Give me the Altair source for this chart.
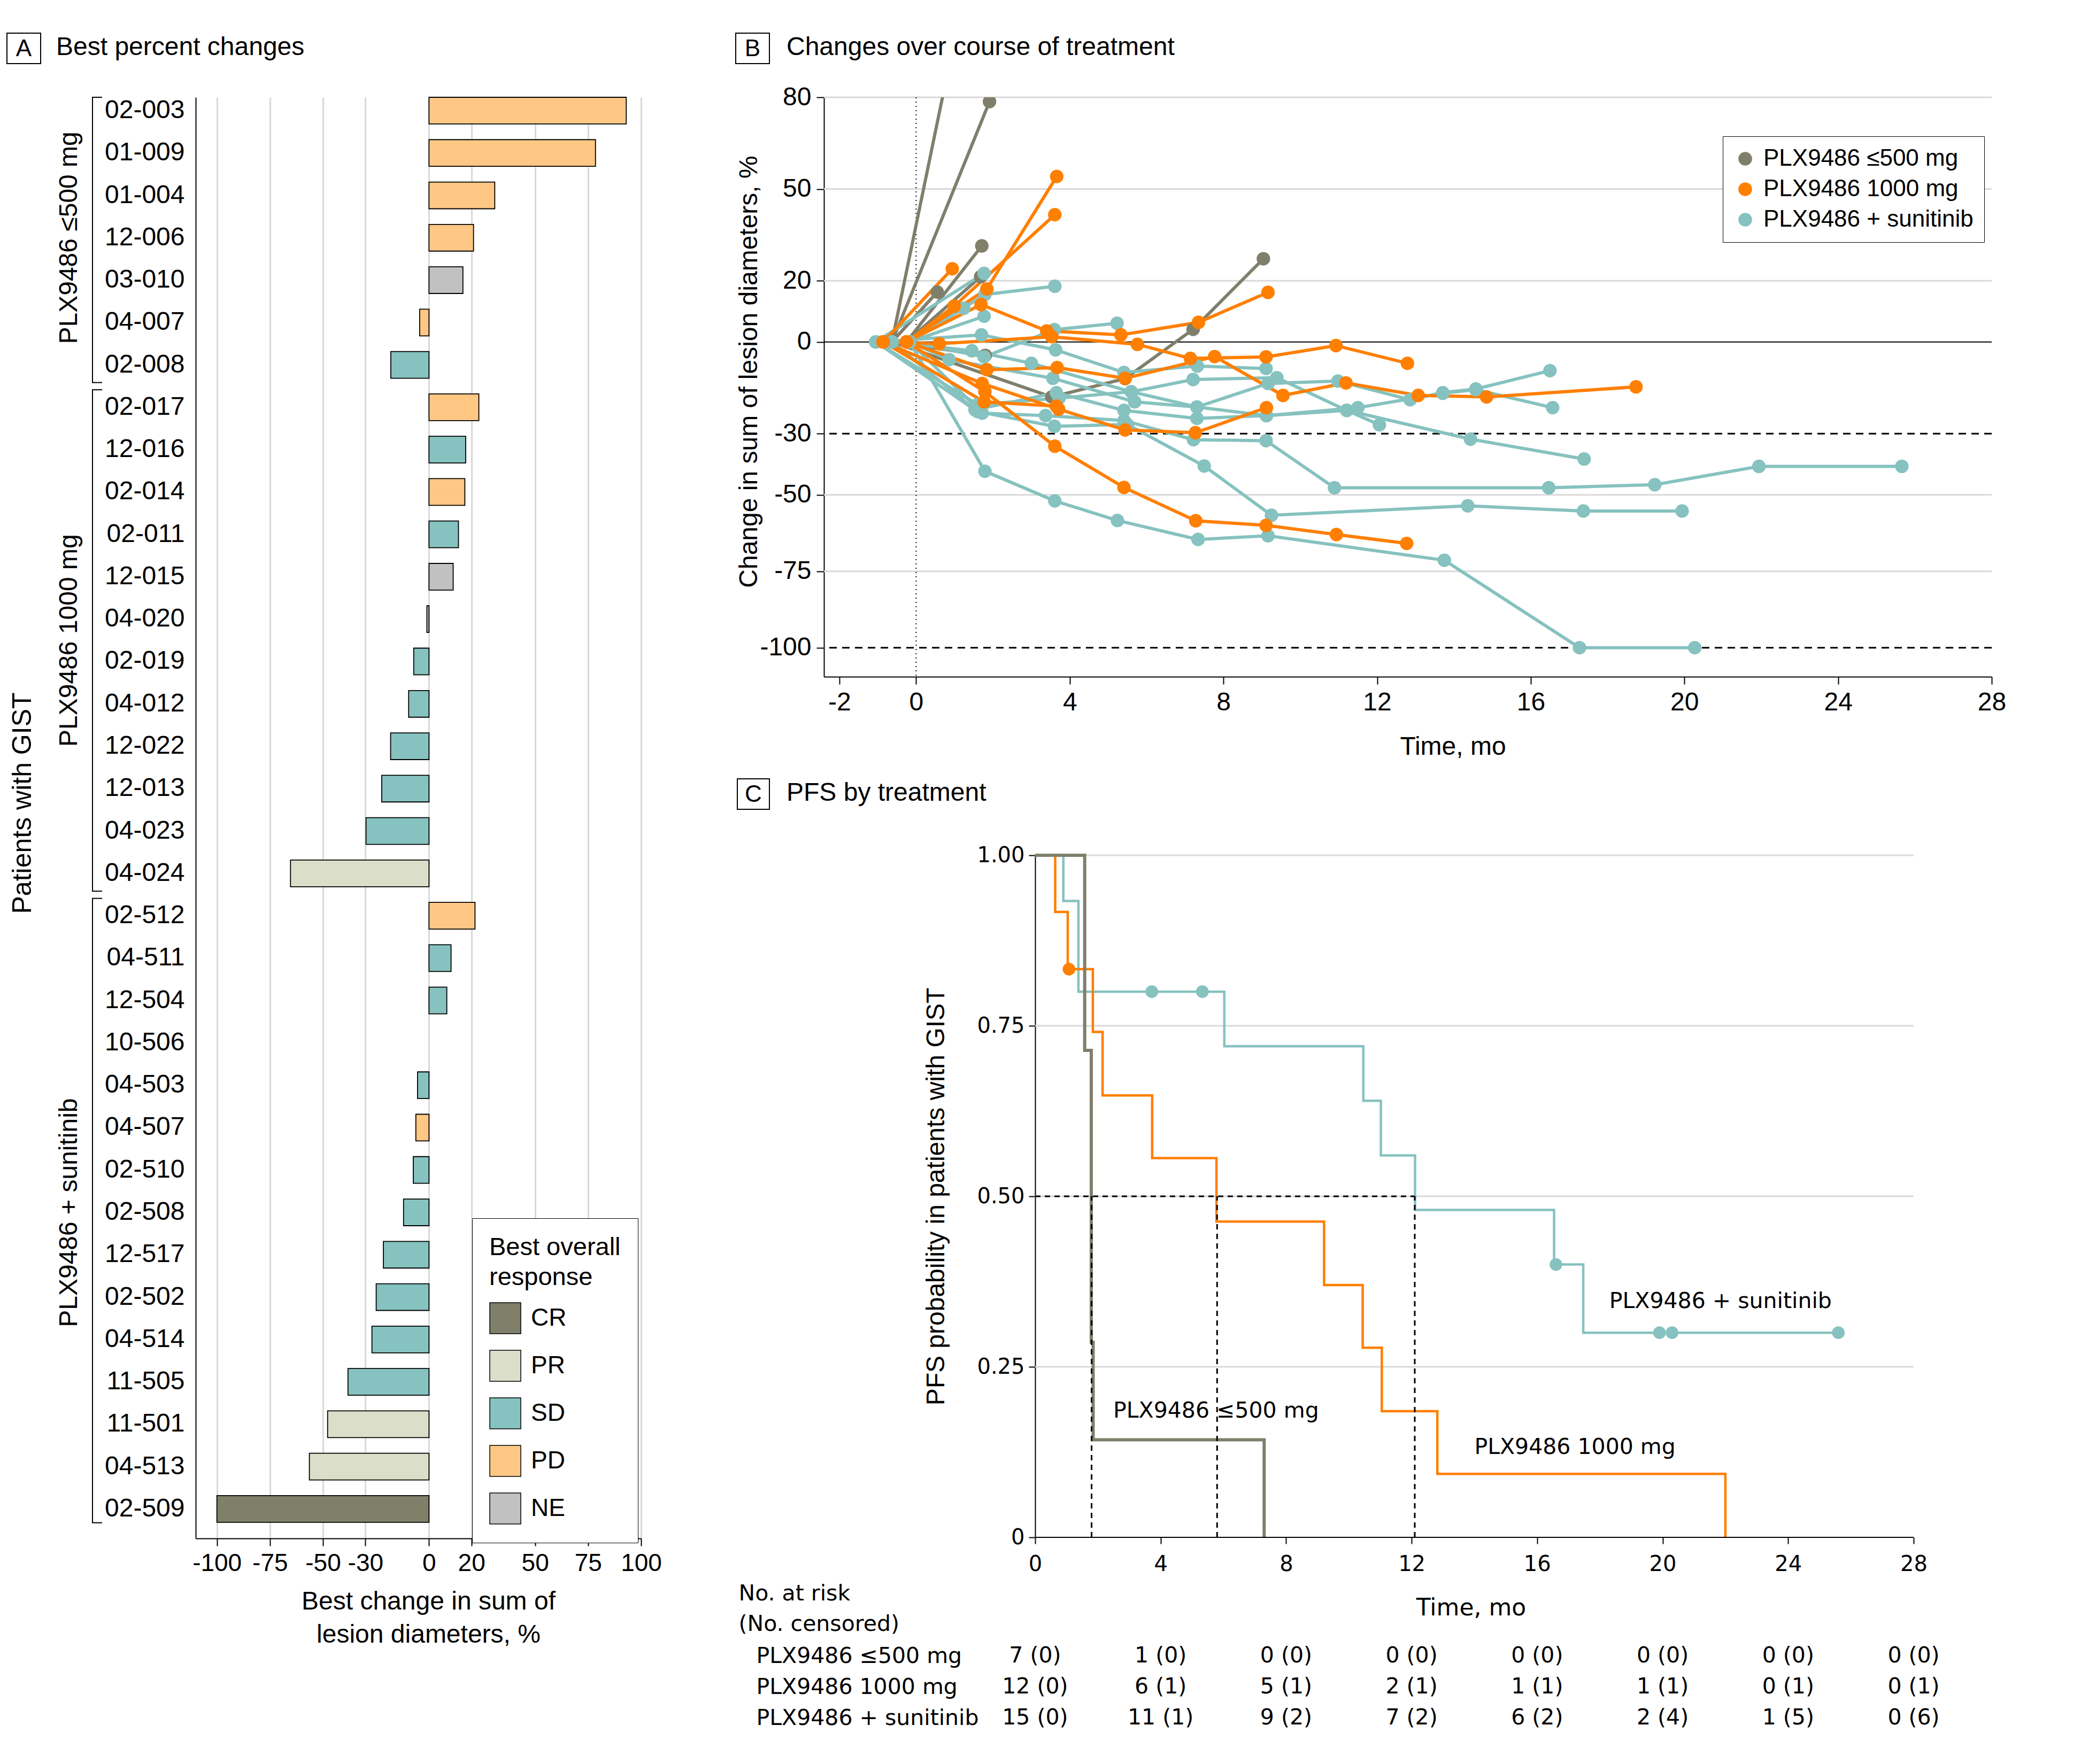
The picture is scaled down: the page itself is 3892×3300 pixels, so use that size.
import altair as alt
import pandas as pd

FONT = "Liberation Sans"
FONT_C = "DejaVu Sans"

# ---------------- Panel A data ----------------
patient_ids = ["02-003", "01-009", "01-004", "12-006", "03-010", "04-007", "02-008",
               "02-017", "12-016", "02-014", "02-011", "12-015", "04-020", "02-019", "04-012",
               "12-022", "12-013", "04-023", "04-024",
               "02-512", "04-511", "12-504", "10-506", "04-503", "04-507", "02-510", "02-508",
               "12-517", "02-502", "04-514", "11-505", "11-501", "04-513", "02-509"]
best_change = [93, 78.5, 31, 21, 16, -4.4, -18,
               23.5, 17.3, 16.9, 13.9, 11.4, -1, -7.2, -9.6, -18.1, -22.3, -29.7, -65.3,
               21.7, 10.4, 8.4, None, -5.4, -6.2, -7.4, -12, -21.5, -24.9, -26.9, -38.2, -47.8, -56.4, -100]
best_response = ["PD", "PD", "PD", "PD", "NE", "PD", "SD",
                 "PD", "SD", "PD", "SD", "NE", "NE", "SD", "SD", "SD", "SD", "SD", "PR",
                 "PD", "SD", "SD", None, "SD", "PD", "SD", "SD", "SD", "SD", "SD", "SD", "PR", "PR", "CR"]
group_names = ["PLX9486 ≤500 mg", "PLX9486 1000 mg", "PLX9486 + sunitinib"]
group_sizes = [7, 12, 15]
response_levels = ["CR", "PR", "SD", "PD", "NE"]
response_colors = ["#807f6a", "#dbdfca", "#86c2bf", "#fec884", "#c1c1c1"]
a_ticks = [-100, -75, -50, -30, 0, 20, 50, 75, 100]

# ---------------- Panel B data ----------------
group_colors = ["#807f6b", "#ff7f00", "#86c2bf"]
gray_t = [[-0.63, 0.9], [-0.63, 1.91], [-0.25, 1.71], [-0.25, 1.68], [-0.63, 0.55],
          [-0.63, 3.53, 5.44, 7.21, 9.04], [-0.63, 1.8]]
gray_v = [[0, 93], [0, 78.6], [0, 31.4], [0, 21.3], [0, 16.3],
          [0, -18.0, -12.0, 4.1, 27.2], [0, -4.4]]
orange_t = [[-0.86, 0.94], [-0.25, 1.84, 3.66], [-0.25, 0.99, 3.61],
            [-0.25, 1.69, 3.40, 5.33, 7.35, 9.16],
            [-0.86, 0.60, 3.53, 5.76, 7.14, 9.11, 10.93, 12.79],
            [-0.25, 1.84, 3.67, 5.44, 7.77, 9.55, 11.19, 13.07, 14.85, 18.74],
            [-0.86, 1.72, 3.71, 5.44, 7.27, 9.12],
            [-0.25, 1.79, 3.61, 5.41, 7.28, 9.11, 10.94, 12.77],
            [-0.86, 1.77, 3.65]]
orange_v = [[0, 23.9], [0, 17.3, 54.1], [0, 11.7, 41.6],
            [0, 12.2, 3.6, 2.3, 6.4, 16.2],
            [0, -0.6, 1.7, -0.8, -5.4, -4.9, -1.2, -7.0],
            [0, -9.1, -8.4, -11.9, -4.8, -17.5, -13.4, -17.5, -18.0, -14.7],
            [0, -13.6, -22.0, -28.8, -29.7, -21.5],
            [0, -16.3, -34.1, -47.6, -58.5, -60.0, -63.0, -65.9],
            [0, -19.6, -21.0]]
teal_t = [[-1.05, 1.77], [-0.17, 1.79, 3.61], [-0.17, 1.24], [-0.17, 1.77],
          [-1.05, 1.70, 3.63, 5.41, 7.32, 9.11],
          [-0.17, 1.77, 3.60, 5.23],
          [-0.63, 1.45, 3.0, 5.6, 7.21, 9.39, 11.21, 14.43, 17.39],
          [-0.17, 0.86, 3.56, 5.69, 7.31, 9.16, 10.98, 12.86, 13.71, 14.57, 16.5],
          [-1.05, 1.53, 3.65, 5.41, 7.31, 9.12, 11.5, 13.71, 14.57, 16.57],
          [-0.17, 1.72, 3.37, 5.41, 7.22, 9.11, 10.89, 16.47, 19.23, 21.94, 25.66],
          [-0.63, 1.6, 3.60, 5.5, 7.5, 9.25, 14.36, 17.37, 19.94],
          [-0.17, 1.79, 3.61, 5.24, 7.34, 9.16, 13.75, 17.27, 20.27],
          [-1.05, 1.6, 3.72, 5.6, 7.31, 9.12, 11.21, 12.06]]
teal_v = [[0, 22.4], [0, 15.5, 18.2], [0, 11.0], [0, 8.4],
          [0, 2.3, -2.6, -10.0, -7.9, -8.7],
          [0, -4.9, 4.0, 6.1],
          [0, -2.9, -7.0, -16.3, -12.3, -11.7, -22.4, -31.8, -38.3],
          [0, -5.8, -11.9, -19.6, -21.3, -13.6, -12.8, -18.9, -16.6, -15.4, -9.4],
          [0, -22.2, -16.6, -22.4, -25.0, -24.1, -21.5, -16.8, -15.6, -21.5],
          [0, -23.3, -24.1, -25.7, -32.0, -32.3, -47.7, -47.7, -46.7, -40.7, -40.7],
          [0, -22.8, -27.6, -27.0, -40.6, -56.7, -53.6, -55.3, -55.3],
          [0, -42.3, -52.0, -58.4, -64.6, -63.4, -71.4, -100.0, -100.0],
          [0, -20.5, -18.4, -16.3, -21.3, -24.1, -22.4, -27.1]]
b_x_ticks = [-2, 0, 4, 8, 12, 16, 20, 24, 28]
b_y_ticks = [80, 50, 20, 0, -30, -50, -75, -100]
b_grid_gray = [80, 50, 20, -50, -75]
b_dashed = [-30, -100]

# ---------------- Panel C data ----------------
km_gray_t = [0, 1.58, 1.79, 1.85, 7.3]
km_gray_s = [1, 0.714, 0.286, 0.143, 0]
km_orange_t = [0, 0.64, 1.04, 1.84, 2.15, 3.73, 5.78, 9.21, 10.44, 11.05, 12.82, 22.0]
km_orange_s = [1, 0.917, 0.833, 0.741, 0.648, 0.556, 0.463, 0.370, 0.278, 0.185, 0.093, 0]
km_teal_t = [0, 0.90, 1.38, 6.03, 10.46, 11.02, 12.11, 16.54, 17.47, 25.6]
km_teal_s = [1, 0.933, 0.8, 0.72, 0.64, 0.56, 0.48, 0.40, 0.30, 0.30]
cens_orange_t = [1.08]
cens_orange_s = [0.833]
cens_teal_t = [3.72, 5.33, 16.6, 19.9, 20.3, 25.6]
cens_teal_s = [0.8, 0.8, 0.40, 0.30, 0.30, 0.30]
medians = [1.8, 5.8, 12.1]
c_x_ticks = [0, 4, 8, 12, 16, 20, 24, 28]
c_y_ticks = [0, 0.25, 0.5, 0.75, 1.0]
ann_text = ["PLX9486 ≤500 mg", "PLX9486 1000 mg", "PLX9486 + sunitinib"]
ann_x = [2.49, 14.0, 18.3]
ann_y = [0.185, 0.132, 0.346]
risk_times = [0, 4, 8, 12, 16, 20, 24, 28]
risk_low = ["7 (0)", "1 (0)", "0 (0)", "0 (0)", "0 (0)", "0 (0)", "0 (0)", "0 (0)"]
risk_high = ["12 (0)", "6 (1)", "5 (1)", "2 (1)", "1 (1)", "1 (1)", "0 (1)", "0 (1)"]
risk_sun = ["15 (0)", "11 (1)", "9 (2)", "7 (2)", "6 (2)", "2 (4)", "1 (5)", "0 (6)"]

one = pd.DataFrame({"k": [0]})
HYPHEN = "replace(datum.label, '\u2212', '-')"


def panel_label(letter, title, bx0, by0, bx1, by1, tx, ty):
    box = alt.Chart(one).mark_rect(fill="white", stroke="black", strokeWidth=2).encode(
        x=alt.value(bx0), x2=alt.value(bx1), y=alt.value(by0), y2=alt.value(by1))
    let = alt.Chart(one).mark_text(text=letter, font=FONT, fontSize=44, align="center",
                                   baseline="middle", color="black").encode(
        x=alt.value((bx0 + bx1) / 2), y=alt.value((by0 + by1) / 2 + 1))
    tit = alt.Chart(one).mark_text(text=title, font=FONT, fontSize=48, align="left",
                                   baseline="middle", color="black").encode(
        x=alt.value(tx), y=alt.value(ty))
    return [box, let, tit]


# ================= Panel A =================
dfA = pd.DataFrame({"pid": patient_ids, "change": best_change, "resp": best_response})
W_A, H_A = 833, 2696
PI_A = 0.37

bars = alt.Chart(dfA).mark_bar(stroke="black", strokeWidth=1.8).encode(
    x=alt.X("change:Q", scale=alt.Scale(domain=[-110, 100], nice=False, zero=False),
            axis=alt.Axis(values=a_ticks, grid=True, gridColor="#d9d9d9", gridWidth=3,
                          domainColor="black", domainWidth=2, tickColor="black", tickWidth=2,
                          tickSize=14, labelFont=FONT, labelFontSize=46, labelColor="black",
                          labelPadding=10, labelOverlap=False, labelFlush=False, labelExpr=HYPHEN,
                          title=["Best change in sum of", "lesion diameters, %"],
                          titleFont=FONT, titleFontSize=48, titleFontWeight="normal",
                          titleColor="black", titleX=435, titleY=94, titleAlign="center",
                          titleBaseline="top", titleLineHeight=62, titleLimit=2000)),
    y=alt.Y("pid:N", sort=patient_ids,
            scale=alt.Scale(domain=patient_ids, paddingInner=PI_A, paddingOuter=0.19, align=0),
            axis=alt.Axis(ticks=False, tickSize=0, domainColor="black", domainWidth=2,
                          labelFont=FONT, labelFontSize=48, labelColor="black", labelPadding=21,
                          title="Patients with GIST", titleFont=FONT, titleFontSize=50,
                          titleFontWeight="normal", titleColor="black", titleAngle=270,
                          titleX=-324, titleY=1320, titleAlign="center", titleBaseline="middle",
                          titleLimit=3000)),
    color=alt.Color("resp:N", scale=alt.Scale(domain=response_levels, range=response_colors),
                    legend=alt.Legend(title=["Best overall", "response"], orient="none",
                                      legendX=517, legendY=2097, symbolType="square",
                                      symbolSize=3364, symbolStrokeColor="black",
                                      symbolStrokeWidth=1.5, symbolOpacity=1,
                                      labelFont=FONT, labelFontSize=46, labelColor="black",
                                      titleFont=FONT, titleFontSize=47, titleFontWeight="normal",
                                      titleColor="black", titleLineHeight=56, titlePadding=22,
                                      strokeColor="black", fillColor="white", padding=32,
                                      rowPadding=25, labelOffset=18, labelLimit=1000,
                                      titleLimit=1000)),
)

# bracket extents in row units (row i occupies [i, i + 1 - PI_A] with align=0)
starts, ends = [], []
acc = 0
for n in group_sizes:
    starts.append(acc)
    acc += n
    ends.append(acc)
dfG = pd.DataFrame({"grp": group_names,
                    "y0": [max(s - 0.1, 0) for s in starts],
                    "y1": [e - PI_A + 0.1 if e < acc else e - PI_A for e in ends],
                    "ym": [(s + e - PI_A) / 2 for s, e in zip(starts, ends)]})
yq = alt.Scale(domain=[0, len(patient_ids)], reverse=True, nice=False, zero=False)
br_v = alt.Chart(dfG).mark_rule(color="black", strokeWidth=2).encode(
    x=alt.value(-193), y=alt.Y("y0:Q", scale=yq, axis=None), y2="y1:Q")
br_t = alt.Chart(dfG).mark_rule(color="black", strokeWidth=2).encode(
    x=alt.value(-194), x2=alt.value(-175), y=alt.Y("y0:Q", scale=yq, axis=None))
br_b = alt.Chart(dfG).mark_rule(color="black", strokeWidth=2).encode(
    x=alt.value(-194), x2=alt.value(-175), y=alt.Y("y1:Q", scale=yq, axis=None))
grp_txt = alt.Chart(dfG).mark_text(angle=270, font=FONT, fontSize=48, align="center",
                                   baseline="middle", color="black").encode(
    x=alt.value(-236), y=alt.Y("ym:Q", scale=yq, axis=None), text="grp:N")

A_main = alt.layer(bars, *panel_label("A", "Best percent changes", -353, -120, -290, -63, -261, -93))
A_br = alt.layer(br_v, br_t, br_b, grp_txt)
A = alt.layer(A_main, A_br).resolve_scale(y="independent").properties(width=W_A, height=H_A)

# ================= Panel B =================
rowsB = []
for grp, tl, vl in [(group_names[0], gray_t, gray_v), (group_names[2], teal_t, teal_v),
                    (group_names[1], orange_t, orange_v)]:
    for k, (ts, vs) in enumerate(zip(tl, vl)):
        for t, v in zip(ts, vs):
            rowsB.append({"pid": f"{grp}-{k}", "grp": grp, "t": t, "v": v})
dfB = pd.DataFrame(rowsB)

grp_scale = alt.Scale(domain=group_names, range=group_colors)
xB = alt.Scale(domain=[-2.4, 28], nice=False, zero=False)
yB = alt.Scale(domain=[-109.5, 80], nice=False, zero=False)
xB_axis = alt.Axis(values=b_x_ticks, grid=False, domainColor="black", domainWidth=2,
                   tickColor="black", tickWidth=2, tickSize=14, labelFont=FONT, labelFontSize=48,
                   labelColor="black", labelPadding=10, labelOverlap=False, labelFlush=False,
                   labelExpr=HYPHEN, title="Time, mo", titleFont=FONT,
                   titleFontSize=48, titleFontWeight="normal", titleColor="black",
                   titleX=1176, titleY=131, titleAlign="center", titleBaseline="middle")
yB_axis = alt.Axis(values=b_y_ticks, grid=False, domainColor="black", domainWidth=2,
                   tickColor="black", tickWidth=2, tickSize=14, labelFont=FONT, labelFontSize=48,
                   labelColor="black", labelPadding=10, labelOverlap=False, labelFlush=False,
                   labelExpr=HYPHEN,
                   title="Change in sum of lesion diameters, %", titleFont=FONT,
                   titleFontSize=48, titleFontWeight="normal", titleColor="black",
                   titleAngle=270, titleX=-140, titleY=513, titleAlign="center",
                   titleBaseline="middle", titleLimit=3000)
legB = alt.Legend(title=None, orient="none", legendX=1681, legendY=73,
                  symbolType="circle", symbolSize=660, symbolOpacity=1,
                  symbolStrokeWidth=0, labelFont=FONT, labelFontSize=44, labelColor="black",
                  padding=20, rowPadding=13, labelOffset=12, labelLimit=1000,
                  strokeColor="black", fillColor="white")

gridB = alt.Chart(pd.DataFrame({"y": b_grid_gray})).mark_rule(color="#d9d9d9", strokeWidth=3).encode(
    y=alt.Y("y:Q", scale=yB, axis=yB_axis))
zeroB = alt.Chart(pd.DataFrame({"y": [0]})).mark_rule(color="black", strokeWidth=2).encode(
    y=alt.Y("y:Q", scale=yB, axis=yB_axis))
dashB = alt.Chart(pd.DataFrame({"y": b_dashed})).mark_rule(color="black", strokeWidth=3,
                                                           strokeDash=[14, 10]).encode(
    y=alt.Y("y:Q", scale=yB, axis=yB_axis))
vlineB = alt.Chart(pd.DataFrame({"x": [0]})).mark_rule(color="black", strokeWidth=2,
                                                       strokeDash=[2, 6]).encode(
    x=alt.X("x:Q", scale=xB, axis=xB_axis))
linesB = alt.Chart(dfB).mark_line(strokeWidth=6, clip=True).encode(
    x=alt.X("t:Q", scale=xB, axis=xB_axis),
    y=alt.Y("v:Q", scale=yB, axis=yB_axis),
    color=alt.Color("grp:N", scale=grp_scale, legend=legB),
    detail="pid:N", order="t:Q")
ptsB = alt.Chart(dfB).mark_circle(size=640, opacity=1, clip=True).encode(
    x=alt.X("t:Q", scale=xB, axis=xB_axis),
    y=alt.Y("v:Q", scale=yB, axis=yB_axis),
    color=alt.Color("grp:N", scale=grp_scale, legend=legB))
B = alt.layer(gridB, zeroB, dashB, vlineB, linesB, ptsB,
              *panel_label("B", "Changes over course of treatment", -165, -120, -102, -63, -70, -93)
              ).properties(width=2184, height=1084)

# ================= Panel C =================
xC = alt.Scale(domain=[-6.73, 28], nice=False, zero=False)
yC = alt.Scale(domain=[0, 1], nice=False, zero=False)
xC_axis = alt.Axis(values=c_x_ticks, domain=False, grid=False, tickColor="black", tickWidth=2,
                   tickSize=12, labelFont=FONT_C, labelFontSize=40, labelColor="black",
                   labelPadding=18, labelOverlap=False, labelFlush=False, title="Time, mo",
                   titleFont=FONT_C, titleFontSize=44, titleFontWeight="normal", titleColor="black",
                   titleX=1210, titleY=132, titleAlign="center", titleBaseline="middle")
yC_axis = alt.Axis(values=c_y_ticks, offset=-395, grid=False,
                   labelExpr="datum.value == 0 ? '0' : format(datum.value, '.2f')",
                   domainColor="black", domainWidth=2, tickColor="black", tickWidth=2,
                   tickSize=12, labelFont=FONT_C, labelFontSize=40, labelColor="black",
                   labelPadding=8, labelOverlap=False, labelFlush=False,
                   title="PFS probability in patients with GIST",
                   titleFont=FONT, titleFontSize=48, titleFontWeight="normal",
                   titleColor="black", titleAngle=270, titleX=-185, titleY=638,
                   titleAlign="center", titleBaseline="middle", titleLimit=3000)

gridC = alt.Chart(pd.DataFrame({"y": c_y_ticks[1:], "x0": c_x_ticks[0], "x1": c_x_ticks[-1]})).mark_rule(
    color="#d9d9d9", strokeWidth=3).encode(
    x=alt.X("x0:Q", scale=xC, axis=xC_axis), x2="x1:Q", y=alt.Y("y:Q", scale=yC, axis=yC_axis))
axisC = alt.Chart(pd.DataFrame({"y": [0], "x0": c_x_ticks[0], "x1": c_x_ticks[-1]})).mark_rule(
    color="black", strokeWidth=2).encode(
    x=alt.X("x0:Q", scale=xC, axis=xC_axis), x2="x1:Q", y=alt.Y("y:Q", scale=yC, axis=yC_axis))

km_layers = []
for grp, ts, ss, w in [(group_names[2], km_teal_t, km_teal_s, 4.5),
                       (group_names[1], km_orange_t, km_orange_s, 4.5),
                       (group_names[0], km_gray_t, km_gray_s, 6)]:
    d = pd.DataFrame({"grp": grp, "t": ts, "s": ss})
    km_layers.append(alt.Chart(d).mark_line(interpolate="step-after", strokeWidth=w).encode(
        x=alt.X("t:Q", scale=xC, axis=xC_axis),
        y=alt.Y("s:Q", scale=yC, axis=yC_axis),
        color=alt.Color("grp:N", scale=grp_scale, legend=None),
        order="t:Q"))

dfCens = pd.DataFrame({"grp": [group_names[1]] * len(cens_orange_t) + [group_names[2]] * len(cens_teal_t),
                       "t": cens_orange_t + cens_teal_t, "s": cens_orange_s + cens_teal_s})
censC = alt.Chart(dfCens).mark_circle(size=560, opacity=1).encode(
    x=alt.X("t:Q", scale=xC, axis=xC_axis), y=alt.Y("s:Q", scale=yC, axis=yC_axis),
    color=alt.Color("grp:N", scale=grp_scale, legend=None))

medV = alt.Chart(pd.DataFrame({"m": medians, "y0": 0, "y1": 0.5})).mark_rule(
    color="black", strokeWidth=3, strokeDash=[10, 8]).encode(
    x=alt.X("m:Q", scale=xC, axis=xC_axis), y=alt.Y("y0:Q", scale=yC, axis=yC_axis), y2="y1:Q")
medH = alt.Chart(pd.DataFrame({"x0": [0], "x1": [max(medians)], "y": [0.5]})).mark_rule(
    color="black", strokeWidth=3, strokeDash=[10, 8]).encode(
    x=alt.X("x0:Q", scale=xC, axis=xC_axis), x2="x1:Q", y=alt.Y("y:Q", scale=yC, axis=yC_axis))
annC = alt.Chart(pd.DataFrame({"txt": ann_text, "x": ann_x, "y": ann_y})).mark_text(
    font=FONT_C, fontSize=41, align="left", baseline="middle", color="black").encode(
    x=alt.X("x:Q", scale=xC, axis=xC_axis), y=alt.Y("y:Q", scale=yC, axis=yC_axis), text="txt:N")

dfR = pd.DataFrame({"grp": [group_names[0]] * 8 + [group_names[1]] * 8 + [group_names[2]] * 8,
                    "t": risk_times * 3, "txt": risk_low + risk_high + risk_sun})
riskC = alt.Chart(dfR).mark_text(font=FONT_C, fontSize=41, align="center", baseline="middle",
                                 color="black").encode(
    x=alt.X("t:Q", scale=xC, axis=xC_axis),
    y=alt.Y("grp:N", sort=group_names,
            scale=alt.Scale(type="point", range=[1498, 1614], padding=0),
            axis=alt.Axis(orient="left", domain=False, ticks=False, tickSize=0, grid=False,
                          labelAlign="left", labelPadding=127, labelFont=FONT_C,
                          labelFontSize=41, labelColor="black", labelBaseline="middle",
                          labelLimit=1000,
                          title=["No. at risk", "(No. censored)"], titleAngle=0,
                          titleAlign="left", titleBaseline="top", titleX=-160, titleY=1361,
                          titleFont=FONT_C, titleFontSize=41, titleFontWeight="normal",
                          titleColor="black", titleLineHeight=57, titleLimit=1000)),
    text="txt:N")

C_main = alt.layer(gridC, *km_layers, censC, medV, medH, axisC, annC,
                   *panel_label("C", "PFS by treatment", -162, -143, -102, -86, -70, -116))
C = alt.layer(C_main, riskC).resolve_scale(y="independent").properties(width=2038, height=1276)

left = alt.vconcat(A, bounds="flush")
right = alt.vconcat(B, C, spacing=334, bounds="flush").resolve_scale(color="independent")
chart = alt.hconcat(left, right, spacing=137).resolve_scale(color="independent").properties(
    padding={"left": 4, "top": 53, "right": 10, "bottom": 10},
    background="white",
).configure(font=FONT).configure_view(stroke="transparent", strokeWidth=0)

chart.save("out.html", embed_options={"renderer": "svg", "actions": False})
